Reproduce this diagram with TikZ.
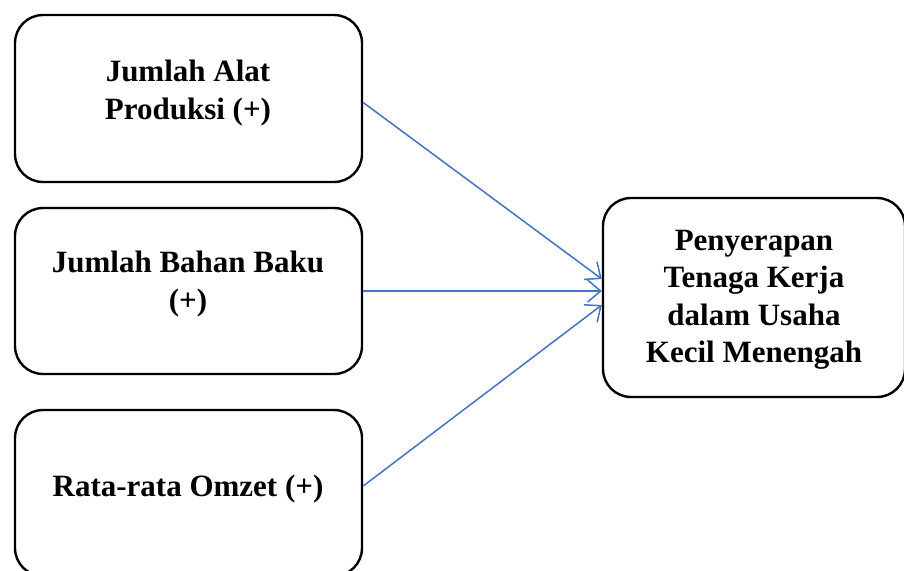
\documentclass[tikz,border=0pt]{standalone}
\usepackage{fontspec}
\setmainfont{Liberation Serif}
\usetikzlibrary{arrows.meta,calc}
\begin{document}
\begin{tikzpicture}[x=1pt,y=-1pt,
  box/.style={draw=black,line width=2.4pt,rounded corners=28pt,inner sep=0pt},
  lbl/.style={font=\bfseries\fontsize{31}{37.5}\selectfont,align=center,inner sep=0pt},
  conn/.style={draw={rgb,255:red,68;green,114;blue,196},line width=1.5pt,-{Straight Barb[length=13pt,width=22pt,line width=1.5pt]}}]
\useasboundingbox (0,0) rectangle (904,570);
\node[box,minimum width=347pt,minimum height=167pt] (b1) at (188.5,98.5) {};
\node[box,minimum width=347pt,minimum height=166pt] (b2) at (188.5,291) {};
\node[box,minimum width=347pt,minimum height=166pt] (b3) at (188.5,493) {};
\node[box,minimum width=302pt,minimum height=199pt] (r) at (754,297.5) {};
\node[lbl] (t1) at (188,93) {Jumlah Alat\\Produksi (+)};
\node[lbl] (t2) at (188,284) {Jumlah Bahan Baku\\(+)};
\node[lbl] (t3) at (188,489) {Rata-rata Omzet (+)};
\node[lbl] (tr) at (754,300) {Penyerapan\\Tenaga Kerja\\dalam Usaha\\Kecil Menengah};
\draw[conn] ($(b1.east)+(0,4)$) -- ($(r.west)+(0,-18.5)$);
\draw[conn] (b2.east) -- ($(r.west)+(0,-6.5)$);
\draw[conn] ($(b3.east)+(0,-7)$) -- ($(r.west)+(0,7.5)$);
\end{tikzpicture}
\end{document}
